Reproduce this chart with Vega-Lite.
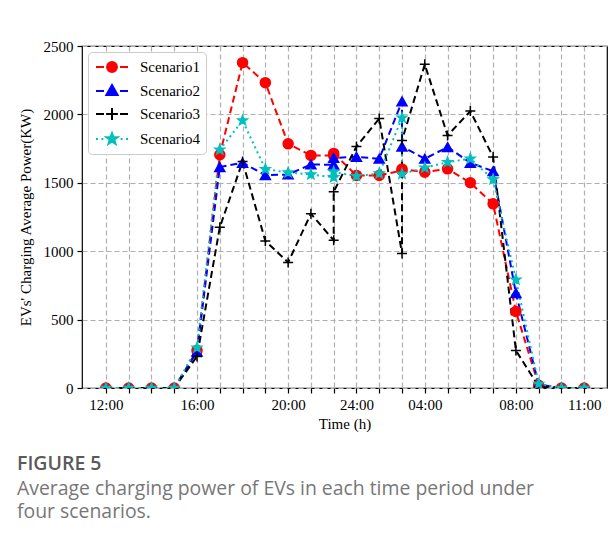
{
  "$schema": "https://vega.github.io/schema/vega-lite/v6.json",
  "width": 525,
  "height": 342,
  "autosize": {"type": "none"},
  "padding": {"left": 82, "top": 46, "right": 7, "bottom": 165},
  "background": "white",
  "config": {
    "view": {"stroke": "black", "strokeWidth": 1.2},
    "axis": {
      "labelFont": "Liberation Serif",
      "labelFontSize": 15,
      "labelColor": "black",
      "titleFont": "Liberation Serif",
      "titleFontSize": 15,
      "titleFontWeight": "normal",
      "titleColor": "black",
      "domain": false,
      "tickColor": "black",
      "tickSize": 5,
      "tickWidth": 1.2,
      "gridColor": "#b0b0b0",
      "gridDash": [5, 3],
      "gridWidth": 1.2,
      "gridOpacity": 1
    },
    "legend": {
      "labelFont": "Liberation Serif",
      "labelFontSize": 15,
      "labelColor": "black",
      "title": null,
      "orient": "top-left",
      "offset": 6,
      "padding": 6,
      "fillColor": "white",
      "strokeColor": "#cccccc",
      "cornerRadius": 4,
      "symbolSize": 256,
      "symbolStrokeWidth": 2,
      "symbolOffset": 9,
      "labelOffset": 19,
      "rowPadding": 5
    }
  },
  "title": {
    "text": "FIGURE 5",
    "subtitle": ["Average charging power of EVs in each time period under", "four scenarios."],
    "orient": "bottom",
    "anchor": "start",
    "frame": "group",
    "dx": -65,
    "offset": 24,
    "font": "Open Sans",
    "fontSize": 19.5,
    "fontWeight": 600,
    "color": "#5a5a5a",
    "subtitleFont": "Open Sans",
    "subtitleFontSize": 19.4,
    "subtitleColor": "#777777",
    "subtitleLineHeight": 23.5,
    "subtitlePadding": 5
  },
  "data": {
    "values": [
      {"s":"Scenario1","q":0,"x":0,"y":0},{"s":"Scenario1","q":1,"x":1,"y":0},{"s":"Scenario1","q":2,"x":2,"y":0},{"s":"Scenario1","q":3,"x":3,"y":0},
      {"s":"Scenario1","q":4,"x":4,"y":275},{"s":"Scenario1","q":5,"x":5,"y":1705},{"s":"Scenario1","q":6,"x":6,"y":2378},{"s":"Scenario1","q":7,"x":7,"y":2232},
      {"s":"Scenario1","q":8,"x":8,"y":1785},{"s":"Scenario1","q":9,"x":9,"y":1700},{"s":"Scenario1","q":10,"x":10,"y":1700},{"s":"Scenario1","q":11,"x":10,"y":1715},
      {"s":"Scenario1","q":12,"x":11,"y":1554},{"s":"Scenario1","q":13,"x":12,"y":1554},{"s":"Scenario1","q":14,"x":13,"y":1590},{"s":"Scenario1","q":15,"x":13,"y":1600},
      {"s":"Scenario1","q":16,"x":14,"y":1578},{"s":"Scenario1","q":17,"x":15,"y":1602},{"s":"Scenario1","q":18,"x":16,"y":1500},{"s":"Scenario1","q":19,"x":17,"y":1346},
      {"s":"Scenario1","q":20,"x":18,"y":560},{"s":"Scenario1","q":21,"x":19,"y":20},{"s":"Scenario1","q":22,"x":20,"y":0},{"s":"Scenario1","q":23,"x":21,"y":0},

      {"s":"Scenario2","q":0,"x":0,"y":0},{"s":"Scenario2","q":1,"x":1,"y":0},{"s":"Scenario2","q":2,"x":2,"y":0},{"s":"Scenario2","q":3,"x":3,"y":0},
      {"s":"Scenario2","q":4,"x":4,"y":265},{"s":"Scenario2","q":5,"x":5,"y":1615},{"s":"Scenario2","q":6,"x":6,"y":1646},{"s":"Scenario2","q":7,"x":7,"y":1556},
      {"s":"Scenario2","q":8,"x":8,"y":1561},{"s":"Scenario2","q":9,"x":9,"y":1634},{"s":"Scenario2","q":10,"x":10,"y":1632},{"s":"Scenario2","q":11,"x":10,"y":1681},
      {"s":"Scenario2","q":12,"x":11,"y":1690},{"s":"Scenario2","q":13,"x":12,"y":1676},{"s":"Scenario2","q":14,"x":13,"y":2095},{"s":"Scenario2","q":15,"x":13,"y":1765},
      {"s":"Scenario2","q":16,"x":14,"y":1676},{"s":"Scenario2","q":17,"x":15,"y":1761},{"s":"Scenario2","q":18,"x":16,"y":1646},{"s":"Scenario2","q":19,"x":17,"y":1585},
      {"s":"Scenario2","q":20,"x":18,"y":694},{"s":"Scenario2","q":21,"x":19,"y":25},{"s":"Scenario2","q":22,"x":20,"y":0},{"s":"Scenario2","q":23,"x":21,"y":0},

      {"s":"Scenario3","q":0,"x":0,"y":0},{"s":"Scenario3","q":1,"x":1,"y":0},{"s":"Scenario3","q":2,"x":2,"y":0},{"s":"Scenario3","q":3,"x":3,"y":0},
      {"s":"Scenario3","q":4,"x":4,"y":231},{"s":"Scenario3","q":5,"x":5,"y":1175},{"s":"Scenario3","q":6,"x":6,"y":1655},{"s":"Scenario3","q":7,"x":7,"y":1075},
      {"s":"Scenario3","q":8,"x":8,"y":918},{"s":"Scenario3","q":9,"x":9,"y":1274},{"s":"Scenario3","q":10,"x":10,"y":1080},{"s":"Scenario3","q":11,"x":10,"y":1434},
      {"s":"Scenario3","q":12,"x":11,"y":1765},{"s":"Scenario3","q":13,"x":12,"y":1970},{"s":"Scenario3","q":14,"x":13,"y":983},{"s":"Scenario3","q":15,"x":13,"y":1810},
      {"s":"Scenario3","q":16,"x":14,"y":2366},{"s":"Scenario3","q":17,"x":15,"y":1846},{"s":"Scenario3","q":18,"x":16,"y":2024},{"s":"Scenario3","q":19,"x":17,"y":1688},
      {"s":"Scenario3","q":20,"x":18,"y":275},{"s":"Scenario3","q":21,"x":19,"y":10},{"s":"Scenario3","q":22,"x":20,"y":0},{"s":"Scenario3","q":23,"x":21,"y":0},

      {"s":"Scenario4","q":0,"x":0,"y":0},{"s":"Scenario4","q":1,"x":1,"y":0},{"s":"Scenario4","q":2,"x":2,"y":0},{"s":"Scenario4","q":3,"x":3,"y":0},
      {"s":"Scenario4","q":4,"x":4,"y":295},{"s":"Scenario4","q":5,"x":5,"y":1742},{"s":"Scenario4","q":6,"x":6,"y":1955},{"s":"Scenario4","q":7,"x":7,"y":1600},
      {"s":"Scenario4","q":8,"x":8,"y":1575},{"s":"Scenario4","q":9,"x":9,"y":1561},{"s":"Scenario4","q":10,"x":10,"y":1540},{"s":"Scenario4","q":11,"x":10,"y":1580},
      {"s":"Scenario4","q":12,"x":11,"y":1549},{"s":"Scenario4","q":13,"x":12,"y":1568},{"s":"Scenario4","q":14,"x":13,"y":1975},{"s":"Scenario4","q":15,"x":13,"y":1565},
      {"s":"Scenario4","q":16,"x":14,"y":1610},{"s":"Scenario4","q":17,"x":15,"y":1651},{"s":"Scenario4","q":18,"x":16,"y":1676},{"s":"Scenario4","q":19,"x":17,"y":1524},
      {"s":"Scenario4","q":20,"x":18,"y":792},{"s":"Scenario4","q":21,"x":19,"y":30},{"s":"Scenario4","q":22,"x":20,"y":0},{"s":"Scenario4","q":23,"x":21,"y":0}
    ]
  },
  "encoding": {
    "x": {
      "field": "x",
      "type": "quantitative",
      "scale": {"domain": [-1.05, 22], "nice": false, "zero": false},
      "axis": {
        "title": "Time (h)",
        "values": [0,1,2,3,4,5,6,7,8,9,10,11,12,13,14,15,16,17,18,19,20,21],
        "labelExpr": "datum.value == 0 ? '12:00' : datum.value == 4 ? '16:00' : datum.value == 8 ? '20:00' : datum.value == 11 ? '24:00' : datum.value == 14 ? '04:00' : datum.value == 18 ? '08:00' : datum.value == 21 ? '11:00' : ''",
        "labelPadding": 4,
        "titlePadding": 4,
        "labelOverlap": false
      }
    },
    "y": {
      "field": "y",
      "type": "quantitative",
      "scale": {"domain": [0, 2500], "nice": false},
      "axis": {
        "title": "EVs' Charging Average Power(KW)",
        "values": [0, 500, 1000, 1500, 2000, 2500],
        "format": "d",
        "labelPadding": 4,
        "titlePadding": 10
      }
    }
  },
  "resolve": {"scale": {"color": "independent", "stroke": "independent", "shape": "independent"}},
  "layer": [
    {
      "mark": {"type": "line", "strokeWidth": 2, "clip": true},
      "encoding": {
        "color": {
          "field": "s", "type": "nominal",
          "scale": {"domain": ["Scenario1","Scenario2","Scenario3","Scenario4"], "range": ["#ff0000","#0000ff","#000000","#00bfbf"]},
          "legend": null
        },
        "strokeDash": {
          "field": "s", "type": "nominal",
          "scale": {"domain": ["Scenario1","Scenario2","Scenario3","Scenario4"], "range": [[7,4],[7,4],[7,4],[2,3.5]]},
          "legend": null
        },
        "order": {"field": "q", "type": "quantitative"}
      }
    },
    {
      "mark": {"type": "point", "filled": true, "opacity": 1, "size": 100, "strokeWidth": 1.5, "clip": true},
      "encoding": {
        "color": {
          "field": "s", "type": "nominal",
          "scale": {"domain": ["Scenario1","Scenario2","Scenario3","Scenario4"], "range": ["#ff0000","#0000ff","#000000","#00bfbf"]},
          "legend": null
        },
        "stroke": {
          "field": "s", "type": "nominal",
          "scale": {"domain": ["Scenario1","Scenario2","Scenario3","Scenario4"], "range": ["#ff0000","#0000ff","#000000","#00bfbf"]},
          "legend": null
        },
        "shape": {
          "field": "s", "type": "nominal",
          "scale": {"domain": ["Scenario1","Scenario2","Scenario3","Scenario4"], "range": ["circle","triangle-up","M-1,0L1,0M0,-1L0,1","M0,-1L0.245,-0.337L0.951,-0.309L0.397,0.128L0.588,0.809L0,0.417L-0.588,0.809L-0.397,0.128L-0.951,-0.309L-0.245,-0.337Z"]},
          "legend": null
        }
      }
    },
    {
      "transform": [{"filter": "datum.q == 0"}],
      "mark": {"type": "point", "filled": true, "opacity": 1, "size": 0, "strokeWidth": 2, "clip": true},
      "encoding": {
        "color": {
          "field": "s", "type": "nominal",
          "scale": {"domain": ["Scenario1","Scenario2","Scenario3","Scenario4"], "range": ["#ff0000","#0000ff","#000000","#00bfbf"]},
          "legend": {"title": null}
        },
        "stroke": {
          "field": "s", "type": "nominal",
          "scale": {"domain": ["Scenario1","Scenario2","Scenario3","Scenario4"], "range": ["#ff0000","#0000ff","#000000","#00bfbf"]},
          "legend": {"title": null}
        },
        "shape": {
          "field": "s", "type": "nominal",
          "scale": {"domain": ["Scenario1","Scenario2","Scenario3","Scenario4"], "range": [
            "M-2,0L-1,0M-0.48,0L0.48,0M1,0L2,0M0.62,0A0.62,0.62 0 1,1 -0.62,0A0.62,0.62 0 1,1 0.62,0Z",
            "M-2,0L-1,0M-0.48,0L0.48,0M1,0L2,0M0,-0.74L0.7,0.5L-0.7,0.5Z",
            "M-2,0L-1,0M-0.48,0L0.48,0M1,0L2,0M-0.74,0L0.74,0M0,-0.74L0,0.74",
            "M-2,0L-1.76,0M-1.32,0L-1.08,0M1.08,0L1.32,0M1.76,0L2,0M0,-0.74L0.18,-0.25L0.7,-0.23L0.29,0.09L0.44,0.6L0,0.31L-0.44,0.6L-0.29,0.09L-0.7,-0.23L-0.18,-0.25Z"
          ]},
          "legend": {"title": null}
        }
      }
    }
  ]
}
